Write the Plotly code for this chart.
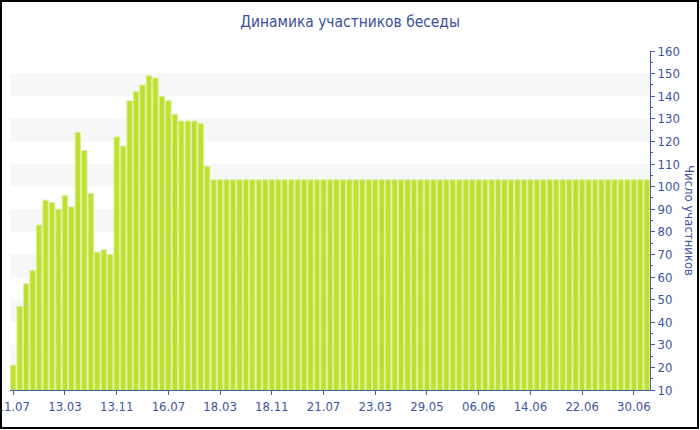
import plotly.graph_objects as go

title_text = "Динамика участников беседы"
y_title = "Число участников"

members = [21, 47, 57, 63, 83, 94, 93, 90, 96, 91,
           124, 116, 97, 71, 72, 70, 122, 118, 138, 142,
           145, 149, 148, 140, 138, 132, 129, 129, 129, 128,
           109] + [103] * 68

tick_labels = ["11.07", "13.03", "13.11", "16.07", "18.03", "18.11", "21.07",
               "23.03", "29.05", "06.06", "14.06", "22.06", "30.06"]
tick_step = 8

x_idx = list(range(len(members)))
tick_pos = [i * tick_step for i in range(len(tick_labels))]

FONT = "DejaVu Sans Condensed, DejaVu Sans, sans-serif"
TXT = "#3e55a0"
AX = "#4a5ea8"

fig = go.Figure()
fig.add_trace(go.Bar(
    x=x_idx, y=members,
    marker=dict(color="#bde12e", line=dict(color="#dcef98", width=1)),
    hoverinfo="y",
))

shapes = []
for lo in range(20, 160, 20):
    shapes.append(dict(type="rect", xref="paper", yref="y", x0=0, x1=1, y0=lo, y1=lo + 10,
                       fillcolor="#f7f7f7", line=dict(width=0), layer="below"))
# outer frame
W, H = 700, 430
ml, mr, mt, mb = 10, 50, 51, 40
pw, ph = W - ml - mr, H - mt - mb
shapes.append(dict(type="rect", xref="paper", yref="paper",
                   x0=(1 - ml) / pw, x1=(698 - ml) / pw,
                   y0=(H - mb - 428) / ph, y1=(H - mb - 1) / ph,
                   line=dict(color="black", width=2), fillcolor="rgba(0,0,0,0)", layer="above"))

fig.update_layout(
    width=W, height=H,
    margin=dict(l=ml, r=mr, t=mt, b=mb),
    paper_bgcolor="white", plot_bgcolor="white",
    showlegend=False,
    bargap=0.16,
    font=dict(family=FONT, size=13, color=TXT),
    title=dict(text=title_text, x=0.5, xref="container", xanchor="center",
               y=1 - 22 / H, yanchor="middle",
               font=dict(family=FONT, size=15.4, color="#3b4f9b")),
    shapes=shapes,
    xaxis=dict(range=[-0.5, len(members) - 0.5], tickvals=tick_pos, ticktext=tick_labels,
               showgrid=False, zeroline=False, showline=True, linecolor=AX, linewidth=1,
               ticks="outside", ticklen=4, tickcolor=AX, automargin=False,
               ticklabeloverflow="allow",
               tickfont=dict(family=FONT, size=13, color=TXT)),
    yaxis=dict(range=[10, 160], dtick=10, side="right", showgrid=False, zeroline=False,
               showline=True, linecolor=AX, linewidth=1, ticks="outside", ticklen=4,
               tickcolor=AX, automargin=False, ticklabeloverflow="allow",
               minor=dict(ticks="outside", ticklen=2, dtick=5, tickcolor=AX),
               tickfont=dict(family=FONT, size=13, color=TXT)),
    annotations=[dict(text=y_title, xref="paper", yref="paper", x=(690 - ml) / pw,
                      y=(H - mb - 220) / ph, xanchor="center", yanchor="middle",
                      showarrow=False, textangle=90,
                      font=dict(family=FONT, size=13, color=TXT))],
)

fig.write_html("out.html", config={"displayModeBar": False},
               post_script="document.body.style.margin='0px';")
